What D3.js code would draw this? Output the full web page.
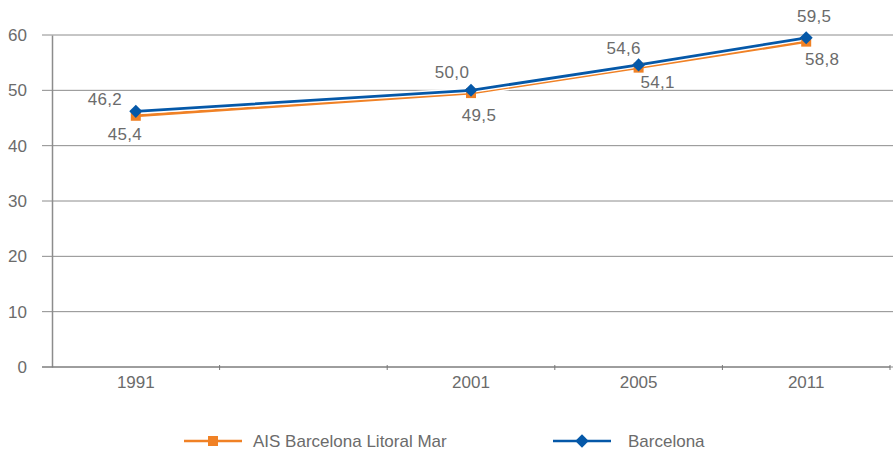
<!DOCTYPE html>
<html>
<head>
<meta charset="utf-8">
<script src="https://cdn.jsdelivr.net/npm/d3@7"></script>
<style>
  body { margin: 0; background: #fff; }
  svg { display: block; font-family: "Liberation Sans", Arial, sans-serif; }
  .axis text { fill: #6b6b6b; font-size: 17px; font-family: "Liberation Sans", Arial, sans-serif; }
</style>
</head>
<body>
<svg width="893" height="452"></svg>
<script>
// categories (second slot is empty in the original chart)
const years = ["1991", "", "2001", "2005", "2011"];
const aisValues = [45.4, null, 49.5, 54.1, 58.8];
const bcnValues = [46.2, null, 50.0, 54.6, 59.5];
const yTicks = [0, 10, 20, 30, 40, 50, 60];

const seriesNames = ["AIS Barcelona Litoral Mar", "Barcelona"];
const colors = ["#F08125", "#0558A8"];

// label offsets relative to the point (style only)
const aisLabelOffset = [[-11, 24], null, [8, 28], [19, 20], [16, 23]];
const bcnLabelOffset = [[-31, -6], null, [-19, -12], [-15, -11], [8, -16]];

const svg = d3.select("svg");
const margin = { top: 35, right: 3, bottom: 85, left: 52 };
const width = 893 - margin.left - margin.right;
const height = 452 - margin.top - margin.bottom;

const g = svg.append("g").attr("transform", `translate(${margin.left},${margin.top})`);

const x = d3.scaleBand().domain(d3.range(years.length)).range([0, width]);
const y = d3.scaleLinear().domain([0, 60]).range([height, 0]);

// gridlines
g.append("g")
  .selectAll("line")
  .data(yTicks)
  .join("line")
  .attr("x1", -10)
  .attr("x2", width + margin.right)
  .attr("y1", d => y(d))
  .attr("y2", d => y(d))
  .attr("stroke", "#8c8c8c")
  .attr("stroke-width", 1);

// y axis
const leftAxis = d3.axisLeft(y).tickValues(yTicks).tickSize(0).tickPadding(25).tickFormat(d3.format("d"));
g.append("g")
  .attr("class", "left axis")
  .call(leftAxis)
  .call(a => a.select(".domain").attr("stroke", "#8c8c8c").attr("stroke-width", 1.5));

// x axis line + ticks at band boundaries
g.append("line")
  .attr("x1", -10).attr("x2", width)
  .attr("y1", height).attr("y2", height)
  .attr("stroke", "#777").attr("stroke-width", 1);
g.append("g")
  .selectAll("line")
  .data(d3.range(1, years.length + 1))
  .join("line")
  .attr("x1", d => d * x.step())
  .attr("x2", d => d * x.step())
  .attr("y1", height - 2)
  .attr("y2", height + 3)
  .attr("stroke", "#777");

const bottomAxis = d3.axisBottom(x).tickSize(0).tickPadding(9).tickFormat(i => years[i]);
g.append("g")
  .attr("class", "bottom axis")
  .attr("transform", `translate(0,${height})`)
  .call(bottomAxis)
  .call(a => a.select(".domain").remove());

const fmt = v => d3.format(".1f")(v).replace(".", ",");
const cx = i => x(i) + x.bandwidth() / 2;

const line = d3.line()
  .defined(d => d.v !== null)
  .x(d => cx(d.i))
  .y(d => y(d.v));

const toPts = vals => vals.map((v, i) => ({ i, v })).filter(d => d.v !== null);

const allSeries = [
  { vals: aisValues, color: colors[0], marker: "square", offs: aisLabelOffset },
  { vals: bcnValues, color: colors[1], marker: "diamond", offs: bcnLabelOffset }
];

allSeries.forEach(s => {
  const pts = toPts(s.vals);
  g.append("path")
    .datum(pts)
    .attr("fill", "none")
    .attr("stroke", "#fff")
    .attr("stroke-width", 5.5)
    .attr("d", line);
  g.append("path")
    .datum(pts)
    .attr("fill", "none")
    .attr("stroke", s.color)
    .attr("stroke-width", 2.8)
    .attr("d", line);
});

allSeries.forEach(s => {
  const pts = toPts(s.vals);
  const diamond = s.marker === "diamond";
  g.append("g")
    .selectAll("path")
    .data(pts)
    .join("path")
    .attr("transform", d => `translate(${cx(d.i)},${y(d.v)})` + (diamond ? " rotate(45)" : ""))
    .attr("d", d3.symbol(d3.symbolSquare, diamond ? 85 : 100))
    .attr("fill", s.color);

  g.append("g")
    .selectAll("text")
    .data(pts)
    .join("text")
    .attr("x", d => cx(d.i) + s.offs[d.i][0])
    .attr("y", d => y(d.v) + s.offs[d.i][1])
    .attr("text-anchor", "middle")
    .attr("font-size", "17px")
    .attr("letter-spacing", "0.3px")
    .attr("fill", "#6b6b6b")
    .text(d => fmt(d.v));
});

// legend
const legend = svg.append("g").attr("transform", "translate(0,441)");
const legendX = [184, 553];
seriesNames.forEach((name, k) => {
  const lg = legend.append("g").attr("transform", `translate(${legendX[k]},0)`);
  lg.append("line")
    .attr("x1", 0).attr("x2", 58)
    .attr("stroke", colors[k]).attr("stroke-width", 2.5);
  lg.append("path")
    .attr("transform", "translate(29,0)" + (k === 1 ? " rotate(45)" : ""))
    .attr("d", d3.symbol(d3.symbolSquare, k === 0 ? 100 : 90))
    .attr("fill", colors[k]);
  lg.append("text")
    .attr("x", k === 0 ? 69 : 75)
    .attr("dy", "0.35em")
    .attr("font-size", "17px")
    .attr("fill", "#6b6b6b")
    .text(name);
});
</script>
</body>
</html>
